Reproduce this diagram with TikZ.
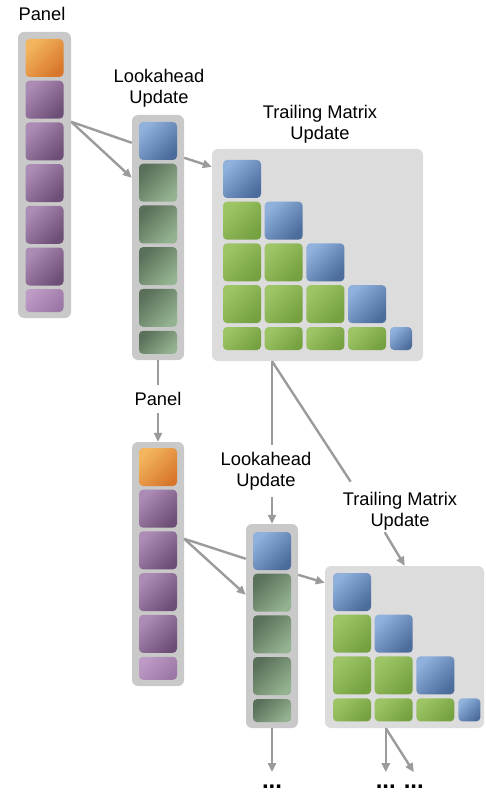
\documentclass[tikz,border=0pt]{standalone}
\usepackage{fontspec}
\setmainfont{Liberation Sans}
\usetikzlibrary{arrows.meta,calc}
\usetikzlibrary{positioning}

\definecolor{colgray}{HTML}{C9C9C9}
\definecolor{matgray}{HTML}{DCDCDC}
\definecolor{linkgray}{HTML}{9B9B9B}
\definecolor{orangeA}{HTML}{F3B55E}
\definecolor{orangeB}{HTML}{D8772C}
\definecolor{purpleA}{HTML}{AC8BB4}
\definecolor{purpleB}{HTML}{6E4F77}
\definecolor{lilacA}{HTML}{BE9BC6}
\definecolor{lilacB}{HTML}{9C78A6}
\definecolor{blueA}{HTML}{8FB1DC}
\definecolor{blueB}{HTML}{4C6C9C}
\definecolor{mossA}{HTML}{5A705A}
\definecolor{mossB}{HTML}{93B28F}
\definecolor{limeA}{HTML}{9DC566}
\definecolor{limeB}{HTML}{76A141}

\begin{document}
\begin{tikzpicture}[
		x=1pt, y=-1pt,
		>={Triangle[length=9pt,width=8pt]},
		link/.style={color=linkgray, line width=2.4pt},
		column/.style={rectangle, rounded corners=6pt, fill=colgray, inner sep=0pt},
		matrix box/.style={column, fill=matgray},
		cell/.style={rectangle, rounded corners=4pt, inner sep=0pt, minimum width=38pt, minimum height=38pt},
		orange cell/.style={cell, top color=orangeA, bottom color=orangeB, shading angle=45},
		purple cell/.style={cell, top color=purpleA, bottom color=purpleB, shading angle=45},
		lilac cell/.style={cell, top color=lilacA, bottom color=lilacB, shading angle=45, minimum height=23pt},
		blue cell/.style={cell, top color=blueA, bottom color=blueB, shading angle=45},
		moss cell/.style={cell, top color=mossA, bottom color=mossB, shading angle=45},
		lime cell/.style={cell, top color=limeA, bottom color=limeB, shading angle=45},
		lbl/.style={font=\fontsize{18.3}{21}\selectfont, align=center, inner sep=7pt},
		dots/.style={font=\fontsize{24}{24}\selectfont\bfseries, inner sep=0pt, anchor=north}]

	\clip (0,0) rectangle (485,794);

	% first step
	\node[lbl] (pnl1) at (42,13.5) {Panel};
	\node[lbl] (lal1) at (159,88) {Lookahead\\Update};
	\node[lbl] (tml1) at (320,124) {Trailing Matrix\\Update};

	\node[column, minimum width=53pt, minimum height=286pt] (p1) at (44.5,175) {};
	\node[column, minimum width=52pt, minimum height=245pt] (la1) at (158,237.5) {};
	\node[matrix box, minimum width=211pt, minimum height=212pt] (tm1) at (317.5,255) {};

	\node[orange cell] (p1c0) at (44.5,58) {};
	\foreach \i in {1,...,5}
		\node[purple cell] (p1c\i) at (44.5,{58+41.7*\i}) {};
	\node[lilac cell] (p1c6) at (44.5,300.5) {};

	\node[blue cell] (la1c0) at (158,141) {};
	\foreach \i in {1,...,4}
		\node[moss cell] (la1c\i) at (158,{141+41.7*\i}) {};
	\node[moss cell, minimum height=23pt] (la1c5) at (158,342.3) {};

	\foreach \i in {0,...,3}
		\node[blue cell] (tm1b\i) at ({242+41.7*\i},{179+41.7*\i}) {};
	\foreach \i/\j in {1/0,2/0,2/1,3/0,3/1,3/2}
		\node[lime cell] (tm1g\i\j) at ({242+41.7*\j},{179+41.7*\i}) {};
	\foreach \j in {0,...,3}
		\node[lime cell, minimum height=23pt] (tm1g4\j) at ({242+41.7*\j},338.5) {};
	\node[blue cell, minimum width=22pt, minimum height=23pt] (tm1b4) at (401,338.5) {};

	% second step
	\node[lbl] (pnl2) at (158,399) {Panel};
	\node[lbl] (lal2) at (266,471) {Lookahead\\Update};
	\node[lbl] (tml2) at (400,511) {Trailing Matrix\\Update};

	\node[column, minimum width=52pt, minimum height=244pt] (p2) at (158,564) {};
	\node[column, minimum width=52pt, minimum height=204pt] (la2) at (272,626) {};
	\node[matrix box, minimum width=159pt, minimum height=162pt] (tm2) at (404.5,647) {};

	\node[orange cell] (p2c0) at (158,467) {};
	\foreach \i in {1,...,4}
		\node[purple cell] (p2c\i) at (158,{467+41.7*\i}) {};
	\node[lilac cell] (p2c5) at (158,668.3) {};

	\node[blue cell] (la2c0) at (272,551) {};
	\foreach \i in {1,...,3}
		\node[moss cell] (la2c\i) at (272,{551+41.7*\i}) {};
	\node[moss cell, minimum height=23pt] (la2c4) at (272,710.6) {};

	\foreach \i in {0,...,2}
		\node[blue cell] (tm2b\i) at ({352+41.7*\i},{592+41.7*\i}) {};
	\foreach \i/\j in {1/0,2/0,2/1}
		\node[lime cell] (tm2g\i\j) at ({352+41.7*\j},{592+41.7*\i}) {};
	\foreach \j in {0,...,2}
		\node[lime cell, minimum height=23pt] (tm2g3\j) at ({352+41.7*\j},709.9) {};
	\node[blue cell, minimum width=22pt, minimum height=23pt] (tm2b3) at (469.4,709.9) {};

	% connectors
	\coordinate (f1) at ($(p1.north east)+(0,90)$);
	\coordinate (f2) at ($(p2.north east)+(0,97)$);
	\coordinate (tm1s) at (la2 |- tm1.south);
	\coordinate (tm2s) at ($(tm2.south west)+(61,0)$);

	\node[dots] (d1) [below=57pt of la2] {...};
	\node[dots] (d2) [below=57pt of tm2s] {...};
	\node[dots] (d3) at ($(d2.north)+(28,0)$) {...};

	\path[link]
		(f1) edge ($(la1.north west)+(0,28)$)
		(f1) edge[->] ($(la1.north west)+(0,63)$)
		($(la1.north east)+(0,43)$) edge[->] ($(tm1.north west)+(0,18)$)

		(la1) edge (pnl2)
		(pnl2) edge[->] (p2)
		(tm1s) edge (la2 |- lal2.north)
		(la2 |- lal2.south) edge[->] (la2)
		(tm1s) edge ($(tml2.north west)+(15,-3)$)
		($(tml2.south west)+(49,-5)$) edge[->] ($(tm2.north west)+(80,0)$)

		(f2) edge ($(la2.north west)+(0,35)$)
		(f2) edge[->] ($(la2.north west)+(0,71)$)
		($(la2.north east)+(0,51)$) edge[->] ($(tm2.north west)+(0,17)$)

		(la2) edge[->] ([yshift=13pt]d1.north)
		(tm2s) edge[->] ([yshift=13pt]d2.north)
		(tm2s) edge[->] ([yshift=13pt]d3.north)
	;
\end{tikzpicture}
\end{document}
